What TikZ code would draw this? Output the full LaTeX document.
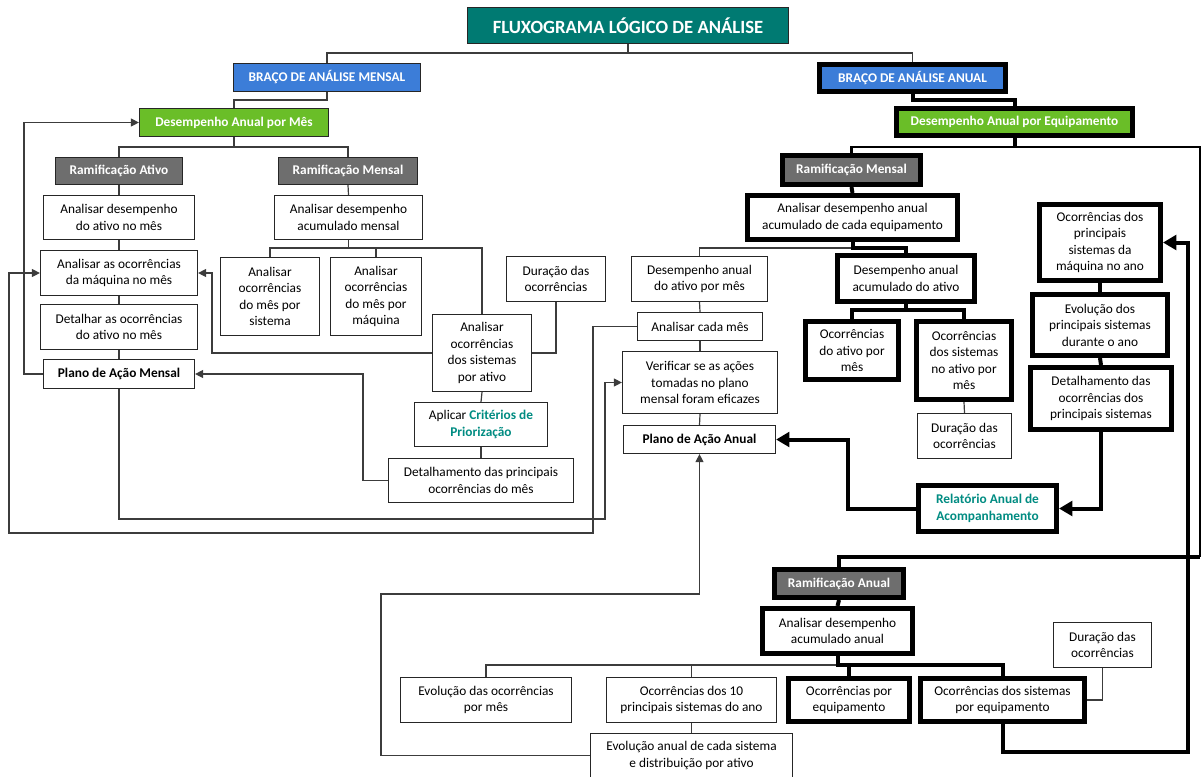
\documentclass[tikz,border=0pt]{standalone}
\usepackage{fontspec}
\setmainfont{Carlito}
\usetikzlibrary{arrows.meta}
\definecolor{cteal}{RGB}{0,122,114}
\definecolor{cblue}{RGB}{60,125,216}
\definecolor{cgreen}{RGB}{106,190,40}
\definecolor{cgray}{RGB}{110,110,110}
\definecolor{ctealtxt}{RGB}{0,140,130}
\definecolor{lnc}{RGB}{60,60,60}
\newcommand\bx[7]{\node[#1, minimum width={(#5-#3-1)*0.75pt}, minimum height={(#6-#4-1)*0.75pt}] (#2) at ({(#3+#5)/2},{(#4+#6)/2}) {#7};}
\newcommand\tbx[7]{\node[#1, minimum width={(#5-#3-4.5)*0.75pt}, minimum height={(#6-#4-4.5)*0.75pt}] (#2) at ({(#3+#5)/2},{(#4+#6)/2}) {#7};}
\tikzset{
 box/.style={draw=black!85, line width=0.9pt, fill=white, align=center, inner sep=1pt, font=\fontsize{10}{12.4}\selectfont},
 tbox/.style={box, draw=black, line width=3.4pt},
 hdr/.style={text=white, font=\fontsize{10}{12}\selectfont\bfseries},
 ln/.style={draw=lnc, line width=0.9pt},
 mln/.style={draw=black, line width=1.8pt},
 tln/.style={draw=black, line width=3pt},
 arr/.style={-{Triangle[length=6pt,width=6pt]}},
 tarr/.style={-{Triangle[length=10pt,width=11pt]}},
}
\begin{document}
\begin{tikzpicture}[x=0.75pt,y=-0.75pt]
\useasboundingbox (0,0) rectangle (1203,776);
% ---------- headers
\bx{box,hdr,fill=cteal,font=\fontsize{14}{16}\selectfont\bfseries}{title}{467}{7}{789}{44}{FLUXOGRAMA LÓGICO DE ANÁLISE}
\bx{box,hdr,fill=cblue}{mensal}{233}{63}{421}{92}{BRAÇO DE ANÁLISE MENSAL}
\tbx{tbox,hdr,fill=cblue}{anual}{817}{62}{1008}{94}{BRAÇO DE ANÁLISE ANUAL}
\bx{box,hdr,fill=cgreen}{dm}{139}{108}{329}{137}{Desempenho Anual por Mês}
\tbx{tbox,hdr,fill=cgreen}{de}{894}{106}{1135}{138}{Desempenho Anual por Equipamento}
\bx{box,hdr,fill=cgray}{rAtivo}{55}{157}{183}{185}{Ramificação Ativo}
\bx{box,hdr,fill=cgray}{rML}{278}{157}{418}{185}{Ramificação Mensal}
\tbx{tbox,hdr,fill=cgray}{rMR}{780}{153}{923}{187}{Ramificação Mensal}
\tbx{tbox,hdr,fill=cgray}{rAnual}{772}{567}{906}{600}{Ramificação Anual}
% ---------- left branch
\bx{box}{b27}{43}{195}{195}{240}{Analisar desempenho\\do ativo no mês}
\bx{box}{b28}{40}{250}{198}{296}{Analisar as ocorrências\\da máquina no mês}
\bx{box}{b29}{40}{304}{198}{350}{Detalhar as ocorrências\\do ativo no mês}
\bx{box,font=\fontsize{10}{12.4}\selectfont\bfseries}{b30}{43}{359}{195}{389}{Plano de Ação Mensal}
\bx{box}{b31}{274}{195}{423}{240}{Analisar desempenho\\acumulado mensal}
\bx{box}{b32}{220}{257}{320}{336}{Analisar\\ocorrências\\do mês por\\sistema}
\bx{box}{b33}{330}{257}{422}{336}{Analisar\\ocorrências\\do mês por\\máquina}
\bx{box}{b34}{432}{314}{532}{392}{Analisar\\ocorrências\\dos sistemas\\por ativo}
\bx{box}{dur1}{506}{256}{606}{302}{Duração das\\ocorrências}
\bx{box}{b36}{414}{402}{548}{447}{Aplicar \textbf{\textcolor{ctealtxt}{Critérios de}}\\\textbf{\textcolor{ctealtxt}{Priorização}}}
\bx{box}{b37}{388}{458}{574}{503}{Detalhamento das principais\\ocorrências do mês}
% ---------- right branch
\tbx{tbox}{anDes}{745}{193}{960}{242}{Analisar desempenho anual\\acumulado de cada equipamento}
\bx{box}{dapm}{631}{256}{768}{302}{Desempenho anual\\do ativo por mês}
\bx{box}{acm}{637}{312}{763}{341}{Analisar cada mês}
\bx{box}{ver}{622}{351}{778}{414}{Verificar se as ações\\tomadas no plano\\mensal foram eficazes}
\bx{box,font=\fontsize{10}{12.4}\selectfont\bfseries}{paa}{623}{425}{776}{454}{Plano de Ação Anual}
\tbx{tbox}{daa}{835}{253}{977}{304}{Desempenho anual\\acumulado do ativo}
\tbx{tbox}{oam}{803}{319}{901}{382}{Ocorrências\\do ativo por\\mês}
\tbx{tbox}{osam}{914}{319}{1014}{402}{Ocorrências\\dos sistemas\\no ativo por\\mês}
\bx{box}{dur2}{917}{413}{1012}{459}{Duração das\\ocorrências}
\tbx{tbox}{ops}{1037}{202}{1163}{283}{Ocorrências dos\\principais\\sistemas da\\máquina no ano}
\tbx{tbox}{evps}{1030}{292}{1170}{358}{Evolução dos\\principais sistemas\\durante o ano}
\tbx{tbox}{dops}{1028}{365}{1174}{432}{Detalhamento das\\ocorrências dos\\principais sistemas}
\tbx{tbox,text=ctealtxt,font=\fontsize{10}{12.4}\selectfont\bfseries}{rel}{916}{483}{1059}{534}{Relatório Anual de\\Acompanhamento}
% ---------- bottom branch
\tbx{tbox}{aaa}{760}{606}{915}{656}{Analisar desempenho\\acumulado anual}
\bx{box}{eom}{400}{677}{572}{723}{Evolução das ocorrências\\por mês}
\bx{box}{o10}{606}{677}{777}{723}{Ocorrências dos 10\\principais sistemas do ano}
\bx{box}{evas}{590}{733}{793}{778}{Evolução anual de cada sistema\\e distribuição por ativo}
\tbx{tbox}{oeq}{786}{676}{912}{724}{Ocorrências por\\equipamento}
\tbx{tbox}{osep}{918}{676}{1087}{724}{Ocorrências dos sistemas\\por equipamento}
\bx{box}{dur3}{1053}{622}{1152}{668}{Duração das\\ocorrências}
% ---------- helper coordinates
\coordinate (k1) at (848,0);
\coordinate (k2) at (1188,0);
\coordinate (k3) at (381,0);
\coordinate (k4) at (212,0);
\coordinate (k5) at (593,0);
\coordinate (k6) at (9,0);
\coordinate (k7) at (24,0);
\coordinate (k8) at (363,0);
\coordinate (k9) at (605,0);
\coordinate (k10) at (1200,0);
% ---------- connectors top
\draw[ln] (title.south) -- (title.south |- 0,53);
\draw[ln] (mensal.north) |- (anual.north |- 0,53) -- (anual.north);
\draw[ln] (mensal.south) |- (dm.north |- 0,100) -- (dm.north);
\draw[tln] (anual.south) |- (de.north |- 0,100) -- (de.north);
\draw[ln] (dm.south) -- (dm.south |- 0,147);
\draw[ln] (rAtivo.north) |- (rML.north |- 0,147) -- (rML.north);
\draw[mln] (rMR.north) |- (k10 |- 0,147) -- (k10 |- 0,557);
\draw[tln] (de.south) -- (de.south |- 0,147);
\draw[tln] (k10 |- 0,557) -| (rAnual.north);
% ---------- left branch connectors
\draw[ln] (rAtivo.south) -- (b27.north);
\draw[ln] (b27.south) -- (b28.north);
\draw[ln] (b28.south) -- (b29.north);
\draw[ln] (b29.south) -- (b30.north);
\draw[ln] (rML.south) -- (b31.north);
\draw[ln] (b31.south) -- (b31.south |- 0,248);
\draw[ln] (b32.north) |- (b34.north |- 0,248) -- (b34.north);
\draw[ln] (b33.north) -- (b33.north |- 0,248);
\draw[ln,arr] (b34.west) -| (k4 |- b28.east) -- (b28.east);
\draw[ln] (dur1.south) |- (b34.east);
\draw[ln] (b34.south) -- (b36.north);
\draw[ln] (b36.south) -- (b37.north);
\draw[ln,arr] (b37.west) -| (k8 |- b30.east) -- (b30.east);
\draw[ln,arr] (b30.west) -| (k7 |- dm.west) -- (dm.west);
\draw[ln,arr] (b30.south) |- (k9 |- 0,519) |- (ver.west);
\draw[ln,arr] (acm.west) -| (k5 |- 0,533) -| (k6 |- b28.west) -- (b28.west);
% ---------- right branch connectors
\draw[tln] (rMR.south) -- (anDes.north);
\draw[ln] (anDes.south |- 0,248) -| (dapm.north);
\draw[tln] (anDes.south) |- (daa.north |- 0,248) -- (daa.north);
\draw[ln] (dapm.south) -- (acm.north);
\draw[ln] (acm.south) -- (ver.north);
\draw[ln] (ver.south) -- (paa.north);
\draw[tln] (daa.south) -- (daa.south |- 0,310);
\draw[tln] (oam.north) |- (osam.north |- 0,310) -- (osam.north);
\draw[ln] (osam.south) -- (dur2.north);
\draw[tln] (ops.south) -- (evps.north);
\draw[tln] (evps.south) -- (dops.north);
\draw[tln,tarr] (dops.south) |- (rel.east);
\draw[tln,tarr] (rel.west) -| (k1 |- paa.east) -- (paa.east);
\draw[tln,tarr] (osep.south) |- (k2 |- 0,752) |- (ops.east);
% ---------- bottom branch connectors
\draw[tln] (rAnual.south) -- (aaa.north);
\draw[ln] (eom.north) |- (aaa.south |- 0,665);
\draw[ln] (o10.north) -- (o10.north |- 0,665);
\draw[tln] (aaa.south) |- (osep.north |- 0,665) -- (osep.north);
\draw[tln] (oeq.north) -- (oeq.north |- 0,665);
\draw[ln] (o10.south) -- (evas.north);
\draw[ln,arr] (evas.west) -| (k3 |- 0,594) -| (paa.south);
\draw[ln] (dur3.south) |- (osep.east);
\end{tikzpicture}
\end{document}
